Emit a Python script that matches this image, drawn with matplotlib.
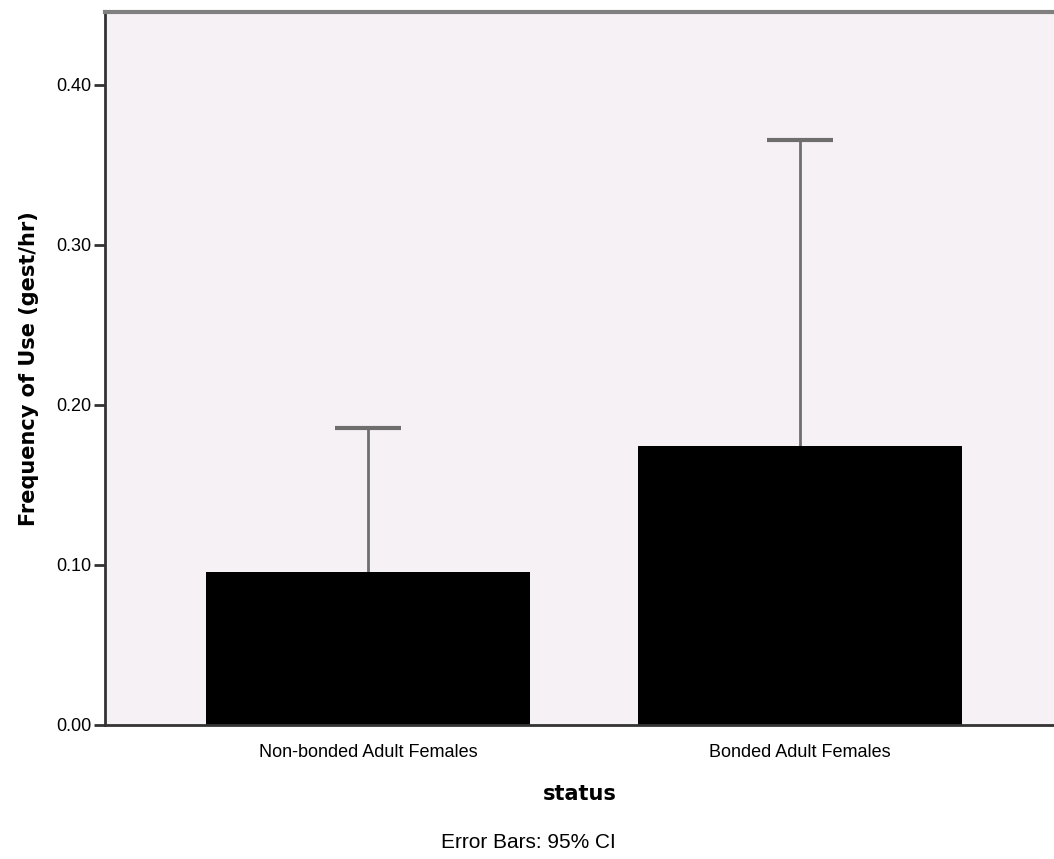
import numpy as np
import matplotlib.pyplot as plt

categories = ["Non-bonded Adult Females", "Bonded Adult Females"]
mean_rate = [0.0956, 0.1744]
ci_high = [0.1856, 0.3656]
ci_low = [0.0056, -0.0168]

fig = plt.figure(figsize=(10.54, 8.59), dpi=100)
ax = fig.add_axes([0.0996, 0.156, 0.9004, 0.830])
ax.set_facecolor("#f6f1f5")

x = np.arange(len(categories))
mean = np.array(mean_rate)
err = [mean - np.array(ci_low), np.array(ci_high) - mean]

ax.errorbar(x, mean, yerr=err, fmt="none", ecolor="#6e6e6e", elinewidth=2,
            capsize=23.5, capthick=3, zorder=1)
ax.bar(x, mean, width=0.75, color="black", zorder=2)

ax.set_xlim(-0.609, 1.588)
ax.set_ylim(0, 0.4456)
ticks = [0.0, 0.1, 0.2, 0.3, 0.4]
ax.set_yticks(ticks)
ax.set_yticklabels([f"{v:.2f}" for v in ticks], family="Liberation Sans", fontsize=13)
ax.set_xticks(x)
ax.set_xticklabels(categories, family="Liberation Sans", fontsize=13)
ax.tick_params(axis="y", length=8, width=2, color="#333333", pad=2)
ax.tick_params(axis="x", length=0, pad=14)

for side in ["left", "bottom"]:
    ax.spines[side].set_color("#333333")
    ax.spines[side].set_linewidth(2)
ax.spines["top"].set_color("#808080")
ax.spines["top"].set_linewidth(3)
ax.spines["right"].set_visible(False)

ax.set_ylabel("Frequency of Use (gest/hr)", fontsize=15, fontweight="bold", labelpad=12)
ax.set_xlabel("status", fontsize=15, fontweight="bold", labelpad=16)

fig.text(0.501, 0.008, "Error Bars: 95% CI", ha="center", va="bottom",
         family="Liberation Sans", fontsize=15)

fig.savefig("out.png", dpi=100)
